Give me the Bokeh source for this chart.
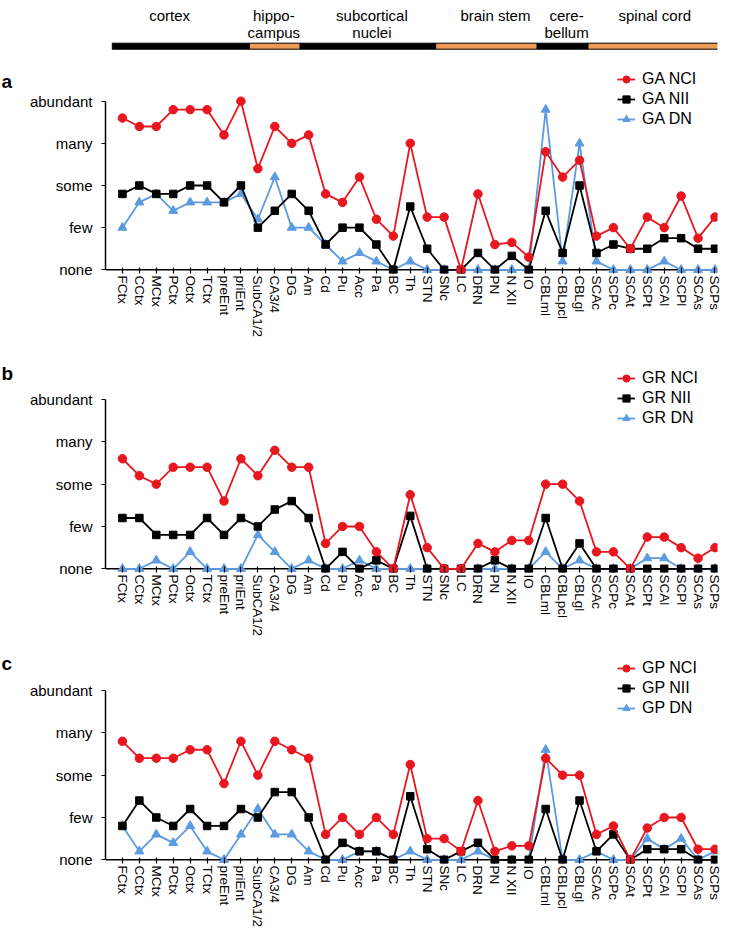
from bokeh.plotting import figure
from bokeh.layouts import column, row
from bokeh.models import (Range1d, FixedTicker, Span, Legend, LegendItem,
                          CustomJSTickFormatter, ColumnDataSource)
from bokeh.embed import file_html
from bokeh.resources import INLINE
from bokeh.core.properties import value

# ---------------- data ----------------
categories = ["FCtx", "CCtx", "MCtx", "PCtx", "Octx", "TCtx", "preEnt", "priEnt",
              "SubCA1/2", "CA3/4", "DG", "Am", "Cd", "Pu", "Acc", "Pa", "BC", "Th",
              "STN", "SNc", "LC", "DRN", "PN", "N XII", "IO", "CBLml", "CBLpcl",
              "CBLgl", "SCAc", "SCPc", "SCAt", "SCPt", "SCAl", "SCPl", "SCAs", "SCPs"]
levels = ["none", "few", "some", "many", "abundant"]

region_names = ["cortex", "hippo-\ncampus", "subcortical\nnuclei", "brain stem",
                "cere-\nbellum", "spinal cord"]
region_sizes = [8, 3, 8, 6, 3, 8]

panel_letters = ["a", "b", "c"]

ga_nci = [3.6, 3.4, 3.4, 3.8, 3.8, 3.8, 3.2, 4.0, 2.4, 3.4, 3.0, 3.2, 1.8, 1.6, 2.2, 1.2,
          0.8, 3.0, 1.25, 1.25, 0.0, 1.8, 0.6, 0.65, 0.3, 2.8, 2.2, 2.6, 0.8, 1.0, 0.5,
          1.25, 1.0, 1.75, 0.75, 1.25]
ga_nii = [1.8, 2.0, 1.8, 1.8, 2.0, 2.0, 1.6, 2.0, 1.0, 1.4, 1.8, 1.4, 0.6, 1.0, 1.0, 0.6,
          0.0, 1.5, 0.5, 0.0, 0.0, 0.4, 0.0, 0.33, 0.0, 1.4, 0.4, 2.0, 0.4, 0.6, 0.5,
          0.5, 0.75, 0.75, 0.5, 0.5]
ga_dn = [1.0, 1.6, 1.8, 1.4, 1.6, 1.6, 1.6, 1.8, 1.2, 2.2, 1.0, 1.0, 0.6, 0.2, 0.4, 0.2,
         0.0, 0.2, 0.0, 0.0, 0.0, 0.0, 0.0, 0.0, 0.0, 3.8, 0.2, 3.0, 0.2, 0.0, 0.0,
         0.0, 0.2, 0.0, 0.0, 0.0]

gr_nci = [2.6, 2.2, 2.0, 2.4, 2.4, 2.4, 1.6, 2.6, 2.2, 2.8, 2.4, 2.4, 0.6, 1.0, 1.0, 0.4,
          0.0, 1.75, 0.5, 0.0, 0.0, 0.6, 0.4, 0.67, 0.67, 2.0, 2.0, 1.6, 0.4, 0.4, 0.0,
          0.75, 0.75, 0.5, 0.25, 0.5]
gr_nii = [1.2, 1.2, 0.8, 0.8, 0.8, 1.2, 0.8, 1.2, 1.0, 1.4, 1.6, 1.2, 0.0, 0.4, 0.0, 0.2,
          0.0, 1.25, 0.0, 0.0, 0.0, 0.0, 0.2, 0.0, 0.0, 1.2, 0.0, 0.6, 0.0, 0.0, 0.0,
          0.0, 0.0, 0.0, 0.0, 0.0]
gr_dn = [0.0, 0.0, 0.2, 0.0, 0.4, 0.0, 0.0, 0.0, 0.8, 0.4, 0.0, 0.2, 0.0, 0.0, 0.2, 0.0,
         0.0, 0.0, 0.0, 0.0, 0.0, 0.0, 0.0, 0.0, 0.0, 0.4, 0.0, 0.2, 0.0, 0.0, 0.0,
         0.25, 0.25, 0.0, 0.0, 0.0]

gp_nci = [2.8, 2.4, 2.4, 2.4, 2.6, 2.6, 1.8, 2.8, 2.0, 2.8, 2.6, 2.4, 0.6, 1.0, 0.6, 1.0,
          0.6, 2.25, 0.5, 0.5, 0.2, 1.4, 0.2, 0.33, 0.33, 2.4, 2.0, 2.0, 0.6, 0.8, 0.0,
          0.75, 1.0, 1.0, 0.25, 0.25]
gp_nii = [0.8, 1.4, 1.0, 0.8, 1.2, 0.8, 0.8, 1.2, 1.0, 1.6, 1.6, 1.0, 0.0, 0.4, 0.2, 0.2,
          0.0, 1.5, 0.25, 0.0, 0.2, 0.4, 0.0, 0.0, 0.0, 1.2, 0.0, 1.4, 0.2, 0.6, 0.0,
          0.25, 0.25, 0.25, 0.0, 0.0]
gp_dn = [0.8, 0.2, 0.6, 0.4, 0.8, 0.2, 0.0, 0.6, 1.2, 0.6, 0.6, 0.2, 0.0, 0.0, 0.2, 0.2,
         0.0, 0.2, 0.0, 0.0, 0.0, 0.2, 0.0, 0.0, 0.0, 2.6, 0.0, 0.0, 0.2, 0.0, 0.0,
         0.5, 0.25, 0.5, 0.0, 0.2]

# ---------------- style / geometry (page pixels) ----------------
FONT = "Liberation Sans"
RED = "#E8161E"
BLACK = "#000000"
BLUE = "#5B9BE0"
ORANGE = "#EE9A55"

PAGE_W, PAGE_H = 754, 934
LW = 16                       # width of the strip holding the panel letters
W = PAGE_W - LW               # width of the chart column
LEFT_PAGE = 105               # page x of the y axis
RIGHT_PAGE = 717              # page x of the right end of the frame
BL = LEFT_PAGE - LW
BR = PAGE_W - RIGHT_PAGE
PX_PER_CAT = 16.93
X0 = -1.0
X1 = X0 + (W - BL - BR) / PX_PER_CAT

xs = list(range(len(categories)))


def letters_strip(baselines):
    p = figure(width=LW, height=PAGE_H, x_range=Range1d(0, LW), y_range=Range1d(PAGE_H, 0),
               x_axis_type=None, y_axis_type=None, min_border=0,
               toolbar_location=None, output_backend="svg", title=None)
    p.outline_line_color = None
    p.background_fill_color = None
    p.border_fill_color = None
    p.text(x=[1] * len(panel_letters), y=baselines, text=panel_letters,
           text_align="left", text_baseline="alphabetic", text_font=value(FONT),
           text_font_size="19px", text_font_style="bold", text_color=BLACK)
    return p


def header(H):
    p = figure(width=W, height=H, x_range=Range1d(X0, X1), y_range=Range1d(H, 0),
               x_axis_type=None, y_axis_type=None,
               min_border_left=BL, min_border_right=BR, min_border_top=0,
               min_border_bottom=0, toolbar_location=None, output_backend="svg",
               title=None)
    p.outline_line_color = None
    p.background_fill_color = None
    p.border_fill_color = None

    label_dx = [-12, -1, 4, 9, 4, -1]
    lefts, rights, fills = [], [], []
    tx, ty, tt, toff = [], [], [], []
    start = 0
    for i, (name, n) in enumerate(zip(region_names, region_sizes)):
        lefts.append(start - 0.5)
        rights.append(start + n - 0.5)
        fills.append(BLACK if i % 2 == 0 else ORANGE)
        center = start + (n - 1) / 2.0
        for k, line in enumerate(name.split("\n")):
            tx.append(center)
            ty.append(14.8 + 16.7 * k)
            tt.append(line)
            toff.append(label_dx[i])
        start += n
    lefts[0] -= 0.1
    rights[-1] += 0.6
    p.quad(left=lefts, right=rights, top=42.7, bottom=48.7, fill_color=fills,
           line_color=BLACK, line_width=1)
    src = ColumnDataSource(dict(x=tx, y=ty, t=tt, off=toff))
    p.text(x="x", y="y", text="t", x_offset="off", source=src, text_align="center",
           text_baseline="alphabetic", text_font=value(FONT), text_font_size="15px",
           text_color=BLACK)
    return p


def panel(prefix, nci, nii, dn, top, H, bb, y0p, y4p, legend_top):
    fb = top + H - bb
    sy = (y0p - y4p) / 4.0
    ys = -(fb - y0p) / sy
    ye = ys + (fb - top) / sy
    p = figure(width=W, height=H, x_range=Range1d(X0, X1), y_range=Range1d(ys, ye),
               min_border_left=BL, min_border_right=BR, min_border_top=0,
               min_border_bottom=bb, toolbar_location=None, output_backend="svg",
               title=None)
    p.grid.visible = False
    p.outline_line_color = None
    p.background_fill_color = None
    p.border_fill_color = None

    xa = p.xaxis[0]
    xa.ticker = FixedTicker(ticks=xs)
    xa.formatter = CustomJSTickFormatter(args=dict(names=categories),
                                         code="return names[Math.round(tick)] || '';")
    xa.major_label_orientation = "vertical"
    xa.axis_line_color = None
    xa.major_tick_in = 6
    xa.major_tick_out = 0
    xa.major_tick_line_color = BLACK
    xa.major_tick_line_width = 1.2
    xa.minor_tick_line_color = None
    xa.major_label_standoff = 2
    xa.major_label_text_font = FONT
    xa.major_label_text_font_size = "13.5px"
    xa.major_label_text_color = BLACK

    ya = p.yaxis[0]
    ya.ticker = FixedTicker(ticks=[0, 1, 2, 3, 4])
    ya.formatter = CustomJSTickFormatter(args=dict(names=levels),
                                         code="return names[Math.round(tick)] || '';")
    ya.bounds = (0, 4)
    ya.axis_line_color = BLACK
    ya.axis_line_width = 1.5
    ya.major_tick_in = 0
    ya.major_tick_out = 4
    ya.major_tick_line_width = 1.2
    ya.minor_tick_line_color = None
    ya.major_label_standoff = 9
    ya.major_label_text_font = FONT
    ya.major_label_text_font_size = "15px"
    ya.major_label_text_color = BLACK

    base = Span(location=0, dimension="width", line_color=BLACK, line_width=1.5,
                level="underlay")
    p.add_layout(base)

    r = {}
    for key, vals, color, marker, size in [("DN", dn, BLUE, "triangle", 9),
                                           ("NII", nii, BLACK, "square", 7.5),
                                           ("NCI", nci, RED, "circle", 8.5)]:
        ln = p.line(xs, vals, line_color=color, line_width=1.8)
        sc = p.scatter(xs, vals, marker=marker, size=size, fill_color=color,
                       line_color=color)
        r[key] = [ln, sc]

    items = [LegendItem(label=prefix + " NCI", renderers=r["NCI"]),
             LegendItem(label=prefix + " NII", renderers=r["NII"]),
             LegendItem(label=prefix + " DN", renderers=r["DN"])]
    leg_h = 60
    legend = Legend(items=items, location=(617 - LEFT_PAGE, fb - (legend_top + leg_h)),
                    label_text_font=FONT, label_text_font_size="16px",
                    label_text_color=BLACK, glyph_width=18, glyph_height=20,
                    label_height=20, label_standoff=7, spacing=0, padding=0, margin=0,
                    border_line_color=None, background_fill_alpha=0)
    p.add_layout(legend)
    return p


hdr = header(56)
pa = panel("GA", ga_nci, ga_nii, ga_dn, top=56, H=294, bb=77,
           y0p=269.3, y4p=100.7, legend_top=68.5)
pb = panel("GR", gr_nci, gr_nii, gr_dn, top=350, H=290, bb=68,
           y0p=568.3, y4p=399.0, legend_top=367.5)
pc = panel("GP", gp_nci, gp_nii, gp_dn, top=640, H=294, bb=71,
           y0p=859.3, y4p=690.0, legend_top=658.3)
strip = letters_strip([80.7, 373.3, 663.3])

layout = row(strip, column(hdr, pa, pb, pc, spacing=0), spacing=0)
open("out.html", "w").write(file_html(layout, INLINE))
